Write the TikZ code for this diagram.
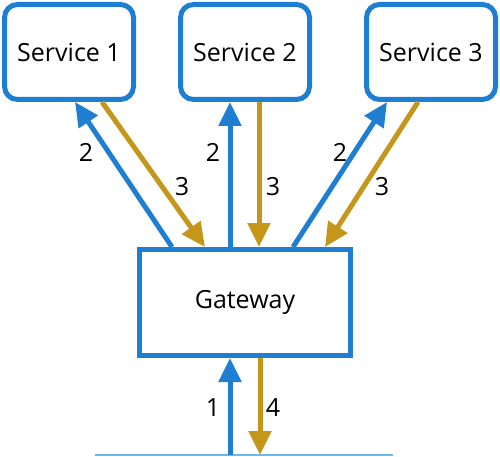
\documentclass[tikz,border=0pt]{standalone}
\usepackage{fontspec}
\setmainfont{Open Sans}
\usetikzlibrary{positioning,arrows.meta}
\definecolor{svcblue}{HTML}{1E7FD2}
\definecolor{respgold}{HTML}{C4961A}
\definecolor{baseblue}{HTML}{6BB8EE}
\tikzset{
  svc/.style={draw=svcblue, line width=5pt, rounded corners=13pt, fill=white,
    minimum width=129pt, minimum height=95pt, font=\fontsize{25}{30}\selectfont},
  gate/.style={draw=svcblue, line width=5pt, fill=white,
    minimum width=211pt, minimum height=106pt, font=\fontsize{25}{30}\selectfont},
  req/.style={draw=svcblue, line width=5pt, -{Triangle[length=24pt,width=22pt]}},
  resp/.style={draw=respgold, line width=5pt, -{Triangle[length=24pt,width=22pt]}},
  num/.style={font=\fontsize{25}{30}\selectfont, inner sep=0pt}
}
\begin{document}
\begin{tikzpicture}[x=1pt, y=-1pt]
                \useasboundingbox (0,0) rectangle (500,457);
                \node[svc] (s2) at (245,52) {Service 2};
                \node[svc] (s1) [left=42pt of s2] {Service 1};
                \node[svc] (s3) [right=52pt of s2] {Service 3};
                \node[gate] (gw) at (245,302.5) {Gateway};
                \coordinate (lineL) at (95,455);
                \coordinate (lineR) at (393,455);
                \coordinate (in) at (230,455);
                \coordinate (out) at (260,455);

                \draw[baseblue, line width=2pt] (lineL) -- (lineR);

                \draw[req] ([xshift=-73pt]gw.north) -- ([xshift=6pt]s1.south);
                \draw[resp] ([xshift=33pt]s1.south) -- ([xshift=-40pt]gw.north);
                \draw[req] ([xshift=-15pt]gw.north) -- ([xshift=-15pt]s2.south);
                \draw[resp] ([xshift=14pt]s2.south) -- ([xshift=14pt]gw.north);
                \draw[req] ([xshift=48pt]gw.north) -- ([xshift=-44pt]s3.south);
                \draw[resp] ([xshift=-13pt]s3.south) -- ([xshift=80pt]gw.north);
                \draw[req] (in) -- ([xshift=-15pt]gw.south);
                \draw[resp] ([xshift=15pt]gw.south) -- (out);

                \node[num] (n2a) at (86,152) {2};
                \node[num] (n3a) at (182,187) {3};
                \node[num] (n2b) at (213,152) {2};
                \node[num] (n3b) at (273,187) {3};
                \node[num] (n2c) at (340,152) {2};
                \node[num] (n3c) at (382,187) {3};
                \node[num] (n1) at (213,408) {1};
                \node[num] (n4) at (273,408) {4};
            \end{tikzpicture}
\end{document}
